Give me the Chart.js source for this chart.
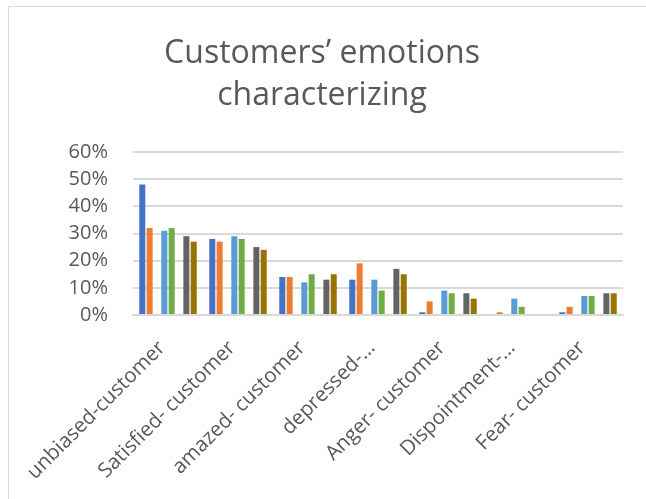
<!DOCTYPE html>
<html>
<head>
<meta charset="utf-8">
<script src="https://cdn.jsdelivr.net/npm/chart.js@4.4.0/dist/chart.umd.min.js"></script>
<style>
  html, body { margin: 0; padding: 0; background: #fff; overflow: hidden; }
  #frame { position: absolute; left: 8px; top: 6px; width: 700px; height: 600px; border: 1px solid #d9d9d9; }
  #wrap { position: absolute; left: 0; top: 0; width: 646px; height: 499px; }
</style>
</head>
<body>
<div id="frame"></div>
<div id="wrap"><canvas id="bar-chart"></canvas></div>
<script>
// categories and series (percent values)
var categories = ['unbiased-customer', 'Satisfied- customer', 'amazed- customer', 'depressed-…',
                  'Anger- customer', 'Dispointment-…', 'Fear- customer'];
var series1 = [48, 28, 14, 13, 1, 0, 1];
var series2 = [32, 27, 14, 19, 5, 1, 3];
var series3 = [null, null, null, null, null, null, null];
var series4 = [31, 29, 12, 13, 9, 6, 7];
var series5 = [32, 28, 15, 9, 8, 3, 7];
var series6 = [null, null, null, null, null, null, null];
var series7 = [29, 25, 13, 17, 8, 0, 8];
var series8 = [27, 24, 15, 15, 6, 0, 8];
var yTicks = [0, 10, 20, 30, 40, 50, 60];

function myChart() {
  var textColor = '#595959';
  var gridColor = '#d9d9d9';
  var font = 'Open Sans';
  var bars = [
    { label: 'Series 1', data: series1, color: '#4472C4' },
    { label: 'Series 2', data: series2, color: '#ED7D31' },
    { label: 'Series 3', data: series3, color: '#A5A5A5' },
    { label: 'Series 4', data: series4, color: '#5B9BD5' },
    { label: 'Series 5', data: series5, color: '#70AD47' },
    { label: 'Series 6', data: series6, color: '#264478' },
    { label: 'Series 7', data: series7, color: '#636363' },
    { label: 'Series 8', data: series8, color: '#997300' }
  ];

  var canvas = document.getElementById('bar-chart');
  canvas.style.width = '646px';
  canvas.style.height = '499px';

  new Chart(canvas, {
    type: 'bar',
    data: {
      labels: categories,
      datasets: bars.map(function (b) {
        return {
          label: b.label,
          data: b.data,
          backgroundColor: b.color,
          borderWidth: 0,
          barPercentage: 0.82,
          categoryPercentage: 0.84
        };
      })
    },
    options: {
      responsive: false,
      animation: false,
      layout: { padding: { top: 33, right: 23, left: 21, bottom: 0 } },
      plugins: {
        legend: { display: false },
        tooltip: { enabled: false },
        title: {
          display: true,
          text: ['Customers\u2019 emotions', 'characterizing'],
          color: textColor,
          font: { family: font, size: 32, weight: 'normal', lineHeight: 1.3125 },
          padding: { top: 0, bottom: 35 }
        }
      },
      scales: {
        x: {
          grid: { display: false, drawTicks: false },
          border: { display: true, color: gridColor, width: 2 },
          ticks: {
            color: textColor,
            font: { family: font, size: 20.5 },
            minRotation: 45,
            maxRotation: 45,
            autoSkip: false,
            padding: 21,
            labelOffset: -6
          },
          afterFit: function (scale) { scale.height = 184; }
        },
        y: {
          min: 0,
          max: 60,
          afterBuildTicks: function (scale) {
            scale.ticks = yTicks.map(function (v) { return { value: v }; });
          },
          grid: { color: gridColor, lineWidth: 2, drawTicks: false },
          border: { display: false },
          ticks: {
            color: textColor,
            font: { family: font, size: 20 },
            padding: 25,
            callback: function (v) { return v + '%'; }
          },
          afterFit: function (scale) { scale.width = 112; }
        }
      }
    }
  });
}
myChart();
</script>
</body>
</html>
